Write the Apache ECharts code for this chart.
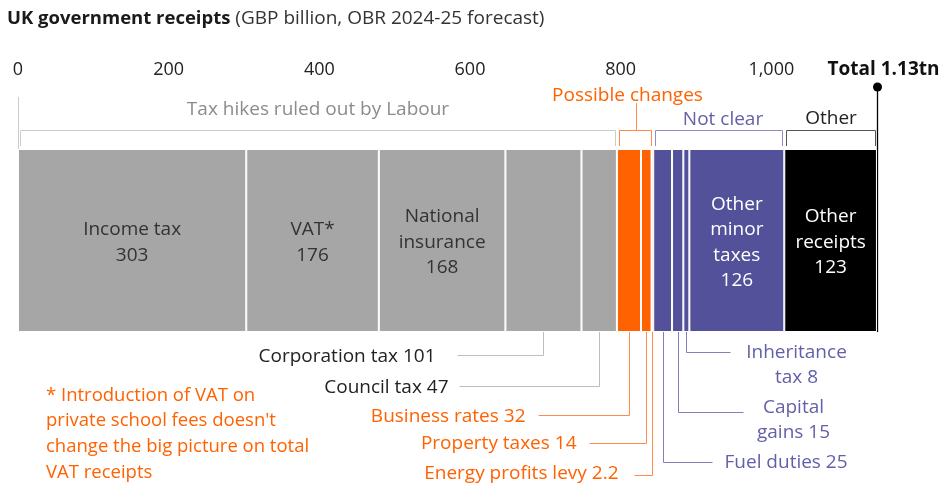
<!DOCTYPE html>
<html><head><meta charset="utf-8">
<script src="https://cdn.jsdelivr.net/npm/echarts@6/dist/echarts.min.js"></script>
<style>html,body{margin:0;padding:0;background:#fff}#c{width:947px;height:491px}</style>
</head><body><div id="c"></div>
<script>
// ---------- DATA ----------
const categories = ['Income tax','VAT*','National insurance','Corporation tax','Council tax','Business rates','Property taxes','Energy profits levy','Fuel duties','Capital gains','Inheritance tax','Other minor taxes','Other receipts'];
const values = [303,176,168,101,47,32,14,2.2,25,15,8,126,123];
const groups = ['tax','tax','tax','tax','tax','possible','possible','possible','unclear','unclear','unclear','unclear','other'];
const groupOrder = ['tax','possible','unclear','other'];
const groupLabels = {tax:'Tax hikes ruled out by Labour', possible:'Possible changes', unclear:'Not clear', other:'Other'};
const insideLabels = ['Income tax\n303','VAT*\n176','National\ninsurance\n168',null,null,null,null,null,null,null,null,'Other\nminor\ntaxes\n126','Other\nreceipts\n123'];
const calloutLabels = [null,null,null,'Corporation tax 101','Council tax 47','Business rates 32','Property taxes 14','Energy profits levy 2.2','Fuel duties 25','Capital\ngains 15','Inheritance\ntax 8',null,null];
const xTicks = [0,200,400,600,800,1000];
const totalValue = values.reduce((a,b)=>a+b,0);
const totalLabel = 'Total 1.13tn';
const titleBold = 'UK government receipts';
const titleRest = ' (GBP billion, OBR 2024-25 forecast)';
const footnote = "* Introduction of VAT on\nprivate school fees doesn't\nchange the big picture on total\nVAT receipts";

// ---------- STYLE / LAYOUT ----------
const FONT = '"Open Sans", sans-serif';
const barColor = {tax:'#a6a6a6', possible:'#ff6200', unclear:'#525199', other:'#000000'};
const insideColor = {tax:'#333333', possible:'#ffffff', unclear:'#ffffff', other:'#ffffff'};
const groupTextColor = {tax:'#8c8c8c', possible:'#ff6200', unclear:'#6360a8', other:'#222222'};
const bracketColor = {tax:'#cccccc', possible:'#ff8a4a', unclear:'#8f8dc4', other:'#555555'};
const leaderColor = {tax:'#bdbdbd', possible:'#ff8c4d', unclear:'#8280ba'};
const calloutTextColor = {tax:'#222222', possible:'#ff6200', unclear:'#6360a8'};
const DY = 2; // text baseline adjustment
const L = {
  gridLeft:18, gridTop:149, gridWidth:904, gridHeight:183,
  zeroLineTop:97,
  bracketY:130, bracketTick:146, bracketInset:2,
  groupText:{tax:{y:108,dx:0}, possible:{y:94,dx:-8,stemTop:103}, unclear:{y:118,dx:4}, other:{y:117,dx:0}},
  totalDotY:87, totalLabelY:68, totalLabelDx:6,
  callouts:{
    3:{lineY:355, lineDx:-86, textDx:-108, textY:355, align:'right'},
    4:{lineY:386, lineDx:-140, textDx:-151, textY:386, align:'right'},
    5:{lineY:415, lineDx:-91, textDx:-104, textY:415, align:'right'},
    6:{lineY:443, lineDx:-57, textDx:-70, textY:442, align:'right'},
    7:{lineY:475, lineDx:-18, textDx:-34, textY:472, align:'right'},
    8:{lineY:462, lineDx:49, textDx:61, textY:461, align:'left'},
    9:{lineY:412, lineDx:65, textDx:115, textY:406, align:'center'},
    10:{lineY:352, lineDx:44, textDx:110, textY:351, align:'center'}
  },
  lineH:25
};

const chart = echarts.init(document.getElementById('c'));
const series = categories.map((name,i)=>({
  name, type:'bar', stack:'total', barWidth:'100%', silent:true, animation:false,
  data:[values[i]],
  itemStyle:{color:barColor[groups[i]], borderColor:'#ffffff', borderWidth:1},
  label:{show:!!insideLabels[i], position:'inside', offset:[0,DY], formatter:insideLabels[i]||'',
    color:insideColor[groups[i]], fontSize:19, lineHeight:25.5, fontFamily:FONT}
}));
chart.setOption({
  animation:false,
  grid:{left:L.gridLeft, top:L.gridTop, width:L.gridWidth, height:L.gridHeight},
  xAxis:{type:'value', position:'top', min:0, max:1200, interval:200,
    axisLine:{show:false}, axisTick:{show:false}, splitLine:{show:false},
    axisLabel:{margin:70, fontSize:18, color:'#222', fontFamily:FONT,
      formatter:v=>xTicks.includes(v)?v.toLocaleString('en-US'):''}},
  yAxis:{type:'category', data:['receipts'], show:false},
  series
});

const px = v => chart.convertToPixel({xAxisIndex:0}, v);
const crisp = x => Math.round(x)+0.5;
const starts=[]; let acc=0; values.forEach(v=>{starts.push(acc); acc+=v;});
const barBottom = L.gridTop + L.gridHeight;
const g = [];
const line=(x1,y1,x2,y2,stroke,w)=>g.push({type:'line',silent:true,shape:{x1,y1,x2,y2},style:{stroke,lineWidth:w||1}});
const text=(t,x,y,opts)=>g.push({type:'text',silent:true,style:Object.assign({text:t,x,y:y+DY,fontFamily:FONT,fontSize:18,align:'center',verticalAlign:'middle'},opts)});

// title
g.push({type:'text',silent:true,style:{x:7,y:17+DY,verticalAlign:'middle',
  text:'{b|'+titleBold+'}{n|'+titleRest+'}',
  rich:{b:{fontFamily:FONT,fontSize:18.5,fontWeight:'bold',fill:'#1a1a1a'},n:{fontFamily:FONT,fontSize:19,fill:'#333'}}}});

// zero line
line(crisp(px(0)), L.zeroLineTop, crisp(px(0)), L.gridTop, '#cccccc', 1);

// group brackets
groupOrder.forEach(gr=>{
  const idx = groups.map((x,i)=>x===gr?i:-1).filter(i=>i>=0);
  const s = starts[idx[0]], e = starts[idx[idx.length-1]]+values[idx[idx.length-1]];
  const x0 = crisp(px(s)+L.bracketInset), x1 = crisp(px(e)-L.bracketInset);
  const c = bracketColor[gr], y = crisp(L.bracketY);
  line(x0,y,x1,y,c,1); line(x0,y,x0,L.bracketTick,c,1); line(x1,y,x1,L.bracketTick,c,1);
  const gt = L.groupText[gr], mid=(x0+x1)/2;
  if (gt.stemTop) line(crisp(mid),gt.stemTop,crisp(mid),y,c,1);
  text(groupLabels[gr], mid+gt.dx, gt.y, {fill:groupTextColor[gr], fontSize:19});
});

// total marker
const tx = crisp(px(totalValue));
line(tx, L.totalDotY, tx, barBottom, '#000', 1.3);
g.push({type:'circle',silent:true,shape:{cx:tx,cy:L.totalDotY,r:4.5},style:{fill:'#000'}});
text(totalLabel, tx+L.totalLabelDx, L.totalLabelY, {fill:'#111', fontWeight:'bold', fontSize:19});

// callouts
calloutLabels.forEach((lab,i)=>{
  if(!lab) return;
  const c = L.callouts[i], gr = groups[i];
  const cx = crisp(px(starts[i]+values[i]/2));
  const ly = crisp(c.lineY);
  line(cx, barBottom, cx, ly, leaderColor[gr], 1);
  line(cx, ly, cx+c.lineDx, ly, leaderColor[gr], 1);
  text(lab, cx+c.textDx, c.textY - L.lineH/2, {align:c.align, verticalAlign:'top', lineHeight:L.lineH, fill:calloutTextColor[gr], fontSize:19});
});

// footnote
text(footnote, 46, 393 - L.lineH/2, {align:'left', verticalAlign:'top', lineHeight:25.7, fill:'#ff6200', fontSize:18.5});

chart.setOption({graphic:{elements:g}});
</script></body></html>
